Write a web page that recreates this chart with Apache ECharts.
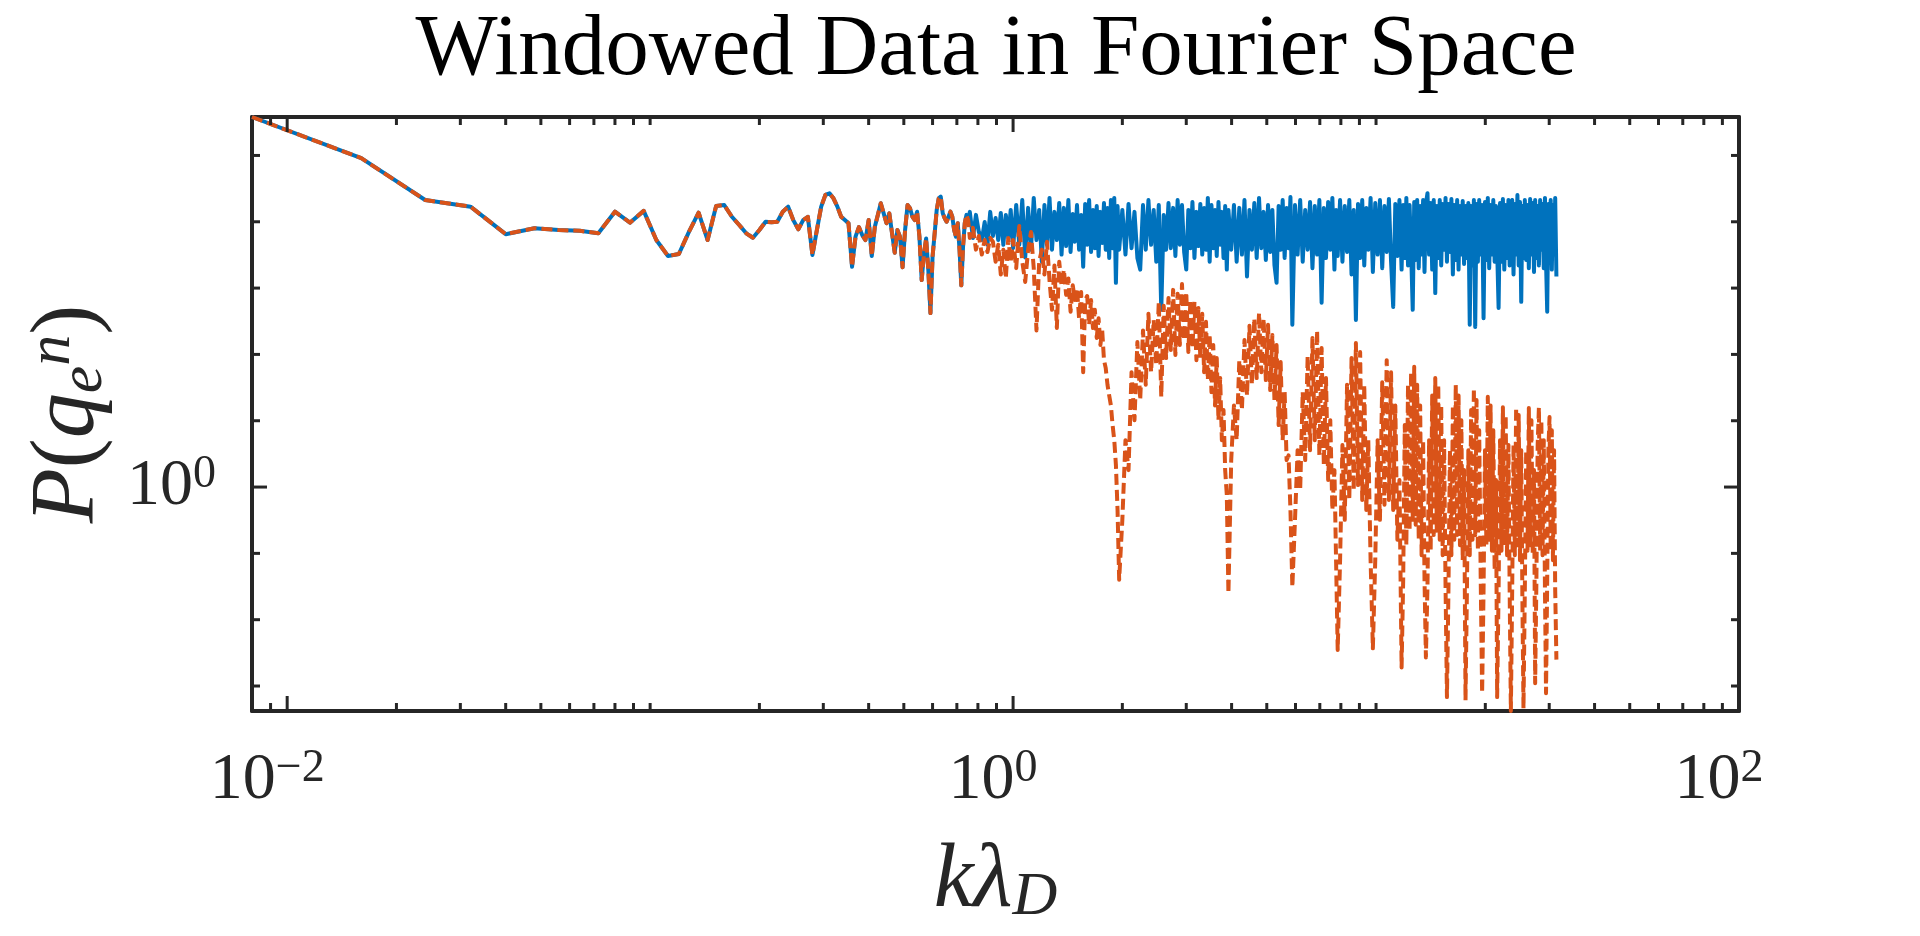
<!DOCTYPE html>
<html>
<head>
<meta charset="utf-8">
<script src="https://cdn.jsdelivr.net/npm/echarts@6.0.0/dist/echarts.min.js"></script>
<style>
html,body{margin:0;padding:0;background:#ffffff;}
#chart{width:1920px;height:936px;}
</style>
</head>
<body>
<div id="chart"></div>
<script>
// ---------------- data ----------------
const X_MIN = 0.008, X_MAX = 100;
const Y_MIN = 4.2e-4, Y_MAX = 3.8e5;

// low-k part: both spectra coincide (k = kλD)
const sharedK = [0.008,0.016,0.024,0.032,0.04,0.048,0.056,0.064,0.072,0.08,
  0.088,0.096,0.104,0.112,0.12,0.128,0.136,0.144,0.152,0.16,
  0.168,0.176,0.184,0.192,0.2,0.208,0.216,0.224,0.232,0.24,
  0.248,0.256,0.264,0.272,0.28,0.288,0.296,0.304,0.312,0.32,
  0.328,0.336,0.344,0.352,0.36,0.368,0.376,0.384,0.392,0.4,
  0.408,0.416,0.424,0.432,0.44,0.448,0.456,0.464,0.472,0.48,
  0.488,0.496,0.504,0.512,0.52,0.528,0.536,0.544,0.552,0.56,
  0.568,0.576,0.584,0.592,0.6,0.608,0.616,0.624,0.632,0.64,
  0.648,0.656,0.664,0.672,0.68,0.688,0.696,0.704,0.712,0.72,
  0.728,0.736,0.744,0.752];
const sharedP = [3.8e5,9.1e4,2.13e4,1.69e4,6.5e3,8.0e3,7.5e3,7.3e3,6.7e3,1.42e4,
  9.7e3,1.46e4,5.3e3,3.05e3,3.27e3,7.1e3,1.37e4,5.3e3,1.73e4,1.79e4,
  1.19e4,8.95e3,6.7e3,5.75e3,7.5e3,1.0e4,9.8e3,1.0e4,1.42e4,1.69e4,
  1.06e4,7.7e3,1.06e4,1.19e4,3.16e3,7.5e3,1.69e4,2.54e4,2.69e4,2.26e4,
  1.69e4,1.19e4,1.06e4,9.5e3,2.1e3,5.96e3,8.3e3,6.3e3,5.3e3,1.06e4,
  3.05e3,8.4e3,1.27e4,1.9e4,1.34e4,9.5e3,1.34e4,6.7e3,3.4e3,7.5e3,
  5.96e3,2.06e3,7.5e3,1.79e4,1.6e4,1.19e4,1.06e4,1.42e4,5.96e3,1.32e3,
  3.3e3,5.6e3,1.88e3,4.2e2,2.98e3,6.7e3,1.51e4,2.26e4,2.39e4,1.34e4,
  1.13e4,1.0e4,9.5e3,1.42e4,1.19e4,7.5e3,5.96e3,9.5e3,3.76e3,1.1e3,
  4.2e3,9.5e3,1.27e4,1.06e4];

// high-k part: sampled k positions (same for both spectra)
const tailK = [
  0.76,0.775,0.79,0.805,0.82,0.835,0.85,0.865,0.88,0.895,0.91,0.925,0.94,0.955,0.97,0.985,1.0,
  1.02,1.04,1.06,1.08,1.1,1.12,1.14,1.16,1.18,1.2,1.22,1.24,1.26,1.28,1.3,1.32,1.34,1.36,1.38,1.4,1.42,1.44,1.46,1.48,1.5,1.52,1.54,1.56,1.58,1.6,1.62,1.64,1.66,1.68,1.7,1.72,1.74,1.76,1.78,1.8,1.82,1.84,1.86,1.88,1.9,1.92,1.94,1.96,
  2.0,2.04,2.08,2.12,2.16,2.2,2.24,2.28,2.32,2.36,2.4,2.44,2.48,2.52,2.56,2.6,2.64,2.68,2.72,2.76,2.8,2.84,2.88,2.92,2.96,3.0,3.04,3.08,3.12,3.16,3.2,3.24,3.28,3.32,3.36,3.4,3.44,3.48,3.52,3.56,3.6,3.64,3.68,3.72,3.76,3.8,3.84,3.88,3.92,
  3.99,4.06,4.13,4.2,4.27,4.34,4.41,4.48,4.55,4.62,4.69,4.76,4.83,4.9,4.97,5.04,5.11,5.18,5.25,5.32,5.39,5.46,5.53,5.6,5.67,5.74,5.81,5.88,
  5.98,6.08,6.18,6.28,6.38,6.48,6.58,6.68,6.78,6.88,6.98,7.08,7.18,7.28,7.38,7.48,7.58,7.68,7.76,7.84,
  7.96,8.08,8.2,8.32,8.44,8.56,8.68,8.8,8.92,9.04,9.16,9.28,9.4,9.52,9.66,9.8,
  9.95,10.1,10.25,10.4,10.55,10.7,10.85,11.0,11.15,11.3,11.45,11.6,11.76,
  11.88,12.0,12.12,12.25,12.37,12.49,12.62,12.74,12.86,12.98,13.11,13.23,13.35,13.48,13.6,13.72,
  13.86,14.0,14.14,14.28,14.42,14.56,14.7,14.84,14.98,15.12,15.26,15.4,15.54,15.68,
  15.83,15.98,16.13,16.28,16.43,16.58,16.73,16.88,17.03,17.18,17.33,17.48,17.64,
  17.8,17.96,18.12,18.28,18.44,18.6,18.76,18.92,19.08,19.24,19.42,19.6,
  19.78,19.96,20.14,20.32,20.5,20.68,20.86,21.04,21.22,21.4,21.56,
  21.76,21.96,22.16,22.36,22.56,22.76,22.96,23.16,23.34,23.52,
  23.72,23.92,24.12,24.32,24.52,24.72,24.92,25.12,25.3,25.48,
  25.7,25.92,26.14,26.36,26.58,26.8,27.02,27.24,27.44,
  27.66,27.88,28.1,28.32,28.54,28.76,28.98,29.2,29.4,
  29.62,29.84,30.06,30.28,30.5,30.72,30.94,31.16,31.4];

// raw data spectrum (blue) at tailK
const blueTailP = [
  1.41e4,5.7e3,1.27e4,7.0e3,5.3e3,9.9e3,4.5e3,1.41e4,6.1e3,1.14e4,5.3e3,1.36e4,4.5e3,1.27e4,5.7e3,1.51e4,4.0e3,
  1.79e4,4.5e3,2.13e4,2.9e3,1.62e4,3.8e3,2.29e4,5.3e3,1.51e4,2.5e3,1.79e4,4.5e3,2.29e4,3.8e3,1.41e4,5.3e3,1.92e4,3.2e3,1.62e4,4.3e3,2.13e4,3.5e3,1.31e4,5.0e3,1.79e4,3.8e3,1.27e4,2.1e3,1.86e4,4.5e3,2.13e4,3.5e3,1.51e4,4.0e3,1.73e4,3.05e3,1.41e4,4.8e3,1.92e4,3.8e3,1.62e4,2.85e3,2.13e4,4.0e3,2.29e4,1.2e3,1.73e4,3.8e3,
  1.51e4,3.2e3,1.86e4,4.0e3,1.41e4,2.85e3,1.9e3,1.79e4,3.8e3,2.13e4,4.5e3,1.51e4,2.5e3,1.79e4,470,1.27e4,3.8e3,1.92e4,4.0e3,1.62e4,3.05e3,2.13e4,4.5e3,1.79e4,3.5e3,1.9e3,1.51e4,4.0e3,1.99e4,2.85e3,1.41e4,4.3e3,1.86e4,3.2e3,1.62e4,3.8e3,2.29e4,2.5e3,1.79e4,4.0e3,1.51e4,3.05e3,1.99e4,4.5e3,1.41e4,2.85e3,1.73e4,1.9e3,1.51e4,
  3.8e3,1.79e4,2.5e3,1.62e4,3.2e3,2.13e4,1.5e3,1.51e4,3.8e3,1.92e4,2.85e3,2.29e4,4.0e3,1.41e4,2.65e3,1.79e4,3.5e3,1.51e4,2.2e3,1.2e3,1.73e4,3.8e3,2.13e4,2.85e3,1.62e4,4.0e3,2.37e4,280,
  1.79e4,3.2e3,2.13e4,2.5e3,1.51e4,3.8e3,1.99e4,2.0e3,1.73e4,3.2e3,2.13e4,600,1.62e4,2.85e3,1.99e4,3.8e3,2.29e4,1.9e3,1.51e4,3.05e3,
  2.13e4,2.5e3,1.73e4,3.5e3,2.13e4,1.6e3,1.51e4,330,1.86e4,2.85e3,2.13e4,2.2e3,1.62e4,3.8e3,2.29e4,1.75e3,
  1.92e4,3.2e3,2.13e4,2.0e3,1.73e4,3.5e3,2.21e4,2.5e3,520,1.86e4,3.05e3,2.13e4,1.9e3,
  1.79e4,2.85e3,2.29e4,2.2e3,1.79e4,3.8e3,470,1.99e4,2.65e3,2.13e4,2.0e3,1.73e4,3.2e3,2.13e4,1.75e3,1.86e4,
  2.7e4,3.2e3,1.92e4,1.9e3,2.13e4,840,1.73e4,2.85e3,2.13e4,2.2e3,1.86e4,3.8e3,2.29e4,2.5e3,
  1.86e4,3.5e3,2.21e4,1.6e3,1.79e4,2.65e3,2.13e4,1.9e3,1.73e4,3.2e3,2.06e4,2.31e3,1.73e4,
  2.85e3,1.92e4,280,1.73e4,2.2e3,2.13e4,260,1.86e4,2.5e3,2.13e4,3.2e3,1.79e4,
  350,1.99e4,2.65e3,2.29e4,2.0e3,1.79e4,3.2e3,2.13e4,2.5e3,1.73e4,3.8e3,
  500,1.92e4,2.5e3,2.21e4,1.9e3,1.79e4,2.85e3,2.13e4,2.2e3,1.86e4,
  2.13e4,1.6e3,1.86e4,3.2e3,2.54e4,2.2e3,1.99e4,620,1.73e4,2.85e3,
  2.13e4,2.65e3,1.79e4,2.0e3,2.21e4,3.2e3,1.92e4,1.75e3,2.13e4,
  2.85e3,1.73e4,2.2e3,2.13e4,3.8e3,1.86e4,2.0e3,2.29e4,2.5e3,
  440,1.86e4,2.5e3,2.13e4,1.9e3,1.79e4,3.2e3,2.29e4,1.5e3];

// windowed data spectrum (orange) at tailK
const orangeTailP = [
  5.7e3,8.1e3,3.8e3,6.1e3,3.2e3,5.3e3,3.5e3,5.7e3,5.0e3,2.5e3,4.5e3,1.6e3,3.8e3,1.4e3,5.7e3,2.5e3,5.3e3,
  2.0e3,8.6e3,2.5e3,1.24e3,3.8e3,7.0e3,2.0e3,230,2.5e3,3.8e3,1.6e3,5.0e3,1.3e3,470,2.2e3,250,2.5e3,1.1e3,1.9e3,790,1.4e3,440,1.1e3,660,1.0e3,350,870,54,660,760,280,660,250,470,177,350,139,230,82,62,35,24,17,8.6,5.1,2.15,0.45,0.04,
  0.32,5.1,1.8,54,10.2,154,20.5,230,35,410,54,330,69,620,23,540,88,710,117,940,98,820,139,1.15e3,165,870,109,660,125,620,82,500,88,410,54,310,41,200,27,139,17,88,10.2,44,5.1,14.5,1.8,0.76,0.025,
  2.55,17,5.1,82,14.5,165,24,270,35,350,44,420,54,350,41,280,29,196,20.5,139,8.6,77,5.1,27,2.55,3.0,0.45,0.031,
  0.32,3.6,0.9,27,2.55,95,3.6,177,5.1,230,3.0,125,2.15,44,1.28,10.2,0.45,1.8,0.079,0.0035,
  0.079,4.3,0.32,35,0.64,88,0.9,149,1.07,109,0.64,35,0.45,5.1,0.079,0.0037,
  0.079,5.1,0.32,38,0.54,82,0.64,54,0.45,17,0.16,1.28,0.0019,
  0.04,8.6,0.133,35,0.22,54,0.32,65,0.27,35,0.16,17,0.094,5.1,0.04,0.0027,
  0.033,5.1,0.11,24,0.19,44,0.22,35,0.16,17,0.094,5.1,0.033,6.8e-4,
  0.028,3.6,0.094,17,0.16,35,0.19,24,0.133,10.2,0.079,1.8,6.1e-4,
  0.028,3.6,0.094,14.5,0.16,31,0.19,20.5,0.11,7.2,0.047,7.8e-4,
  0.028,3.6,0.133,23,0.16,17,0.11,7.2,0.056,1.28,6.8e-4,
  0.028,5.1,0.11,16,0.133,12.2,0.094,4.3,0.028,4.2e-4,
  0.028,4.3,0.094,16,0.133,12.2,0.079,3.6,0.0235,4.6e-4,
  0.028,3.6,0.11,15.5,0.133,10.2,0.094,1.8,0.0011,
  0.04,4.3,16,0.11,10.2,0.094,5.1,0.028,7.8e-4,
  0.04,3.6,11.4,0.11,7.2,0.079,3.6,0.028,0.0025];

// ticks and tick labels
const xMajorTicks = [0.01, 1, 100];
const xMinorTicks = [0.009,0.02,0.03,0.04,0.05,0.06,0.07,0.08,0.09,0.1,0.2,0.3,0.4,0.5,0.6,0.7,0.8,0.9,
  2,3,4,5,6,7,8,9,10,20,30,40,50,60,70,80,90];
const yMajorTicks = [1];
const yMinorTicks = [1e-3,1e-2,1e-1,10,100,1e3,1e4,1e5];
const xLabelValues = [0.01, 1, 100];
const xLabelExps = ['\u22122', '0', '2'];
const yLabelValues = [1];
const yLabelExps = ['0'];

// ---------------- chart ----------------
const AX = '#262626';
const SERIF = '"Liberation Serif", "DejaVu Serif", serif';
const BLUE = '#0072BD', ORANGE = '#D95319';

function pairs(ks, ps) {
  const out = [];
  for (let i = 0; i < ks.length && i < ps.length; i++) out.push([ks[i], ps[i]]);
  return out;
}
const blueData = pairs(sharedK, sharedP).concat(pairs(tailK, blueTailP));
const orangeData = pairs(sharedK, sharedP).concat(pairs(tailK, orangeTailP));

const tickData = [];
xMajorTicks.forEach(v => tickData.push([v, Y_MIN, 0, 15]));
xMinorTicks.forEach(v => tickData.push([v, Y_MIN, 0, 8]));
yMajorTicks.forEach(v => tickData.push([X_MIN, v, 1, 15]));
yMinorTicks.forEach(v => tickData.push([X_MIN, v, 1, 8]));

function sameVal(a, b) { return Math.abs(Math.log10(a) - Math.log10(b)) < 1e-6; }
function makeFmt(vals, exps) {
  return function (v) {
    for (let i = 0; i < vals.length; i++) {
      if (sameVal(v, vals[i])) return '{b|10}{s|' + exps[i] + '}';
    }
    return '';
  };
}

const labelRich = {
  b: {fontFamily: SERIF, fontSize: 66, color: AX, lineHeight: 70},
  s: {fontFamily: SERIF, fontSize: 46, color: AX, lineHeight: 20, verticalAlign: 'top'}
};
const nameRich = {
  i: {fontFamily: SERIF, fontStyle: 'italic', fontSize: 90, color: AX, lineHeight: 94},
  r: {fontFamily: SERIF, fontSize: 90, color: AX, lineHeight: 94},
  sub: {fontFamily: SERIF, fontStyle: 'italic', fontSize: 62, color: AX, lineHeight: 28, verticalAlign: 'bottom'},
  sup: {fontFamily: SERIF, fontStyle: 'italic', fontSize: 62, color: AX, lineHeight: 28, verticalAlign: 'top'}
};

const axisLine = {show: true, onZero: false, lineStyle: {color: AX, width: 4}};
function baseAxis(extra) {
  return Object.assign({
    type: 'log', logBase: 10,
    axisLine: axisLine,
    axisTick: {show: false},
    minorTick: {show: false},
    splitLine: {show: false},
    minorSplitLine: {show: false},
    nameMoveOverlap: false
  }, extra);
}

const chart = echarts.init(document.getElementById('chart'), null, {renderer: 'canvas'});
chart.setOption({
  animation: false,
  backgroundColor: '#ffffff',
  title: {
    text: 'Windowed Data in Fourier Space',
    left: 996, top: 8, padding: 0, textAlign: 'center',
    textStyle: {fontFamily: SERIF, fontSize: 87, fontWeight: 'normal', color: '#000000'}
  },
  grid: {left: 252, right: 181, top: 117, bottom: 225, containLabel: false, outerBoundsMode: 'none'},
  xAxis: [
    baseAxis({
      min: X_MIN, max: X_MAX, position: 'bottom',
      axisLabel: {show: true, margin: 35, padding: [0, 40, 0, 0], formatter: makeFmt(xLabelValues, xLabelExps), rich: labelRich, fontFamily: SERIF},
      name: '{i|k\u03BB}{sub|D}', nameLocation: 'middle', nameGap: 124,
      nameTextStyle: {rich: nameRich}
    }),
    baseAxis({min: X_MIN, max: X_MAX, position: 'top', axisLabel: {show: false}})
  ],
  yAxis: [
    baseAxis({
      min: Y_MIN, max: Y_MAX, position: 'left',
      axisLabel: {show: true, margin: 36, formatter: makeFmt(yLabelValues, yLabelExps), rich: labelRich, fontFamily: SERIF},
      name: '{i|P}{r|(}{i|q}{sub|e}{sup|n}{r|)}', nameLocation: 'middle', nameGap: 136, nameRotate: 90,
      nameTextStyle: {rich: nameRich}
    }),
    baseAxis({min: Y_MIN, max: Y_MAX, position: 'right', axisLabel: {show: false}})
  ],
  series: [
    {
      type: 'line', name: 'data', xAxisIndex: 0, yAxisIndex: 0,
      data: blueData, showSymbol: false, symbol: 'none', silent: true,
      lineStyle: {color: BLUE, width: 4, join: 'round'}, z: 2
    },
    {
      type: 'line', name: 'windowed', xAxisIndex: 0, yAxisIndex: 0,
      data: orangeData, showSymbol: false, symbol: 'none', silent: true,
      lineStyle: {color: ORANGE, width: 4, type: [11, 5], join: 'round'}, z: 3
    },
    {
      type: 'custom', xAxisIndex: 0, yAxisIndex: 0, data: tickData,
      encode: {x: 0, y: 1}, clip: false, silent: true, z: 5,
      renderItem: function (params, api) {
        const kind = api.value(2), len = api.value(3);
        const st = {stroke: AX, lineWidth: 3};
        const p = api.coord([api.value(0), api.value(1)]);
        if (kind === 0) {
          const q = api.coord([api.value(0), Y_MAX]);
          return {type: 'group', children: [
            {type: 'line', shape: {x1: p[0], y1: p[1], x2: p[0], y2: p[1] - len}, style: st},
            {type: 'line', shape: {x1: q[0], y1: q[1], x2: q[0], y2: q[1] + len}, style: st}
          ]};
        }
        const q = api.coord([X_MAX, api.value(1)]);
        return {type: 'group', children: [
          {type: 'line', shape: {x1: p[0], y1: p[1], x2: p[0] + len, y2: p[1]}, style: st},
          {type: 'line', shape: {x1: q[0], y1: q[1], x2: q[0] - len, y2: q[1]}, style: st}
        ]};
      }
    }
  ]
});
</script>
</body>
</html>
